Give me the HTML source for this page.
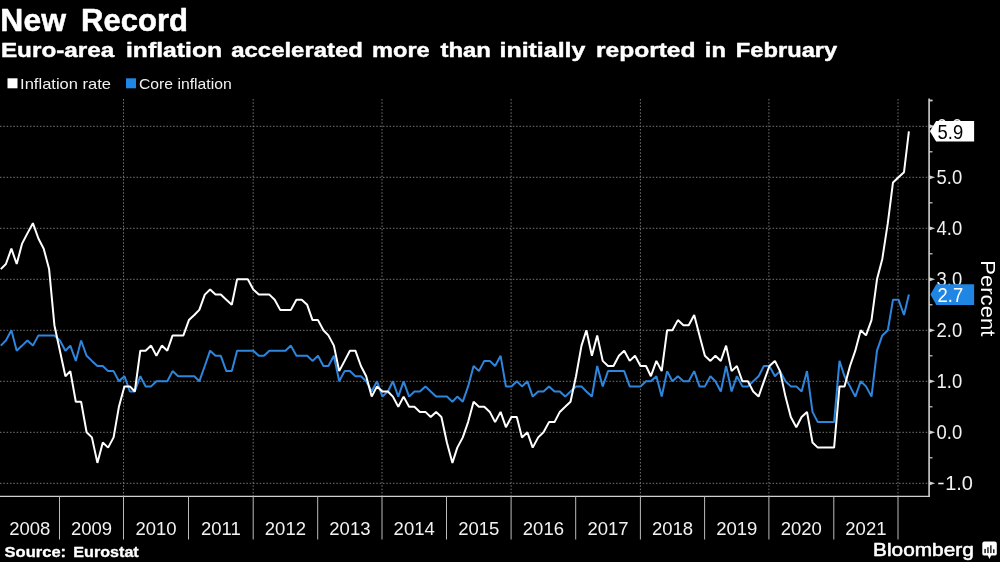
<!DOCTYPE html>
<html><head><meta charset="utf-8"><style>
html,body{margin:0;padding:0;background:#000;width:1000px;height:562px;overflow:hidden}
svg{display:block}
text{font-family:"Liberation Sans",sans-serif;fill:#fff;filter:grayscale(1)}
.g{stroke:#767676;stroke-width:1;stroke-dasharray:1.5 1.83}
.sep{stroke:#bbb;stroke-width:1}
.yr{font-size:18.5px;text-anchor:middle;fill:#f2f2f2}
.yl{font-size:19.8px;fill:#f2f2f2}
</style></head><body>
<svg width="1000" height="562" viewBox="0 0 1000 562">
<rect width="1000" height="562" fill="#000"/>
<text x="0.39" y="30.7" font-size="30.6" font-weight="bold" stroke="#fff" stroke-width="0.5" stroke-linejoin="round" textLength="65.55" lengthAdjust="spacingAndGlyphs" style="fill:#fff">New</text><text x="81.10" y="30.7" font-size="30.6" font-weight="bold" stroke="#fff" stroke-width="0.5" stroke-linejoin="round" textLength="106.83" lengthAdjust="spacingAndGlyphs" style="fill:#fff">Record</text>
<text x="0.91" y="57.4" font-size="21.0" font-weight="bold" stroke="#fff" stroke-width="0.45" stroke-linejoin="round" textLength="113.38" lengthAdjust="spacingAndGlyphs" style="fill:#fff">Euro-area</text><text x="125.99" y="57.4" font-size="21.0" font-weight="bold" stroke="#fff" stroke-width="0.45" stroke-linejoin="round" textLength="96.16" lengthAdjust="spacingAndGlyphs" style="fill:#fff">inflation</text><text x="231.29" y="57.4" font-size="21.0" font-weight="bold" stroke="#fff" stroke-width="0.45" stroke-linejoin="round" textLength="131.61" lengthAdjust="spacingAndGlyphs" style="fill:#fff">accelerated</text><text x="372.01" y="57.4" font-size="21.0" font-weight="bold" stroke="#fff" stroke-width="0.45" stroke-linejoin="round" textLength="57.70" lengthAdjust="spacingAndGlyphs" style="fill:#fff">more</text><text x="440.46" y="57.4" font-size="21.0" font-weight="bold" stroke="#fff" stroke-width="0.45" stroke-linejoin="round" textLength="50.47" lengthAdjust="spacingAndGlyphs" style="fill:#fff">than</text><text x="499.49" y="57.4" font-size="21.0" font-weight="bold" stroke="#fff" stroke-width="0.45" stroke-linejoin="round" textLength="85.92" lengthAdjust="spacingAndGlyphs" style="fill:#fff">initially</text><text x="595.96" y="57.4" font-size="21.0" font-weight="bold" stroke="#fff" stroke-width="0.45" stroke-linejoin="round" textLength="99.55" lengthAdjust="spacingAndGlyphs" style="fill:#fff">reported</text><text x="704.84" y="57.4" font-size="21.0" font-weight="bold" stroke="#fff" stroke-width="0.45" stroke-linejoin="round" textLength="20.99" lengthAdjust="spacingAndGlyphs" style="fill:#fff">in</text><text x="735.83" y="57.4" font-size="21.0" font-weight="bold" stroke="#fff" stroke-width="0.45" stroke-linejoin="round" textLength="101.41" lengthAdjust="spacingAndGlyphs" style="fill:#fff">February</text>
<rect x="7.5" y="78.3" width="10" height="10" fill="#fff"/>
<text x="20.10" y="89" font-size="14.6" textLength="90.96" lengthAdjust="spacingAndGlyphs" style="fill:#f0f0f0">Inflation rate</text>
<rect x="126" y="78.3" width="10" height="10" fill="#1f86e4"/>
<text x="138.94" y="89" font-size="14.6" textLength="92.82" lengthAdjust="spacingAndGlyphs" style="fill:#f0f0f0">Core inflation</text>
<line x1="0" y1="483.3" x2="928" y2="483.3" class="g"/>
<line x1="0" y1="432.3" x2="928" y2="432.3" class="g"/>
<line x1="0" y1="381.3" x2="928" y2="381.3" class="g"/>
<line x1="0" y1="330.3" x2="928" y2="330.3" class="g"/>
<line x1="0" y1="279.3" x2="928" y2="279.3" class="g"/>
<line x1="0" y1="228.3" x2="928" y2="228.3" class="g"/>
<line x1="0" y1="177.3" x2="928" y2="177.3" class="g"/>
<line x1="0" y1="126.3" x2="928" y2="126.3" class="g"/>
<line x1="123.5" y1="99" x2="123.5" y2="496" class="g"/>
<line x1="253.2" y1="99" x2="253.2" y2="496" class="g"/>
<line x1="382.0" y1="99" x2="382.0" y2="496" class="g"/>
<line x1="511.1" y1="99" x2="511.1" y2="496" class="g"/>
<line x1="640.4" y1="99" x2="640.4" y2="496" class="g"/>
<line x1="768.9" y1="99" x2="768.9" y2="496" class="g"/>
<line x1="898.0" y1="99" x2="898.0" y2="496" class="g"/>
<polyline points="0.8,345.6 5.9,340.5 11.4,330.3 16.7,350.7 22.1,345.6 27.4,340.5 32.9,345.6 38.4,335.4 43.7,335.4 49.1,335.4 54.4,335.4 59.9,340.5 65.4,350.7 70.3,345.6 75.8,360.9 81.1,340.5 86.6,355.8 91.9,360.9 97.4,366.0 102.8,366.0 108.1,371.1 113.6,371.1 118.9,381.3 124.4,376.2 129.9,391.5 134.8,391.5 140.3,376.2 145.6,386.4 151.1,386.4 156.4,381.3 161.8,381.3 167.3,381.3 172.6,371.1 178.1,376.2 183.4,376.2 188.9,376.2 194.3,376.2 199.3,381.3 204.8,366.0 210.1,350.7 215.5,355.8 220.8,355.8 226.3,371.1 231.8,371.1 237.1,350.7 242.6,350.7 247.8,350.7 253.3,350.7 258.8,355.8 263.9,355.8 269.4,350.7 274.7,350.7 280.2,350.7 285.5,350.7 290.9,345.6 296.4,355.8 301.7,355.8 307.2,355.8 312.5,360.9 318.0,355.8 323.4,366.0 328.4,366.0 333.9,355.8 339.2,381.3 344.6,371.1 349.9,371.1 355.4,376.2 360.9,376.2 366.2,381.3 371.7,391.5 377.0,381.3 382.4,396.6 387.9,391.5 392.9,381.3 398.3,396.6 403.6,381.3 409.1,396.6 414.4,391.5 419.9,391.5 425.4,386.4 430.7,391.5 436.1,396.6 441.4,396.6 446.9,396.6 452.4,401.7 457.3,396.6 462.8,401.7 468.1,386.4 473.6,366.0 478.9,371.1 484.3,360.9 489.8,360.9 495.1,366.0 500.6,355.8 505.9,386.4 511.4,386.4 516.8,381.3 522.0,386.4 527.4,381.3 532.7,396.6 538.2,391.5 543.5,391.5 549.0,386.4 554.5,391.5 559.8,391.5 565.2,396.6 570.5,391.5 576.0,386.4 581.5,386.4 586.4,391.5 591.9,396.6 597.2,366.0 602.7,386.4 608.0,371.1 613.5,371.1 618.9,371.1 624.2,371.1 629.7,386.4 635.0,386.4 640.5,386.4 646.0,381.3 650.9,381.3 656.4,376.2 661.7,396.6 667.1,371.1 672.4,381.3 677.9,376.2 683.4,381.3 688.7,381.3 694.2,371.1 699.5,386.4 704.9,386.4 710.4,376.2 715.4,381.3 720.8,391.5 726.1,366.0 731.6,391.5 736.9,376.2 742.4,386.4 747.9,386.4 753.2,381.3 758.6,376.2 763.9,366.0 769.4,366.0 774.9,376.2 780.0,371.1 785.5,381.3 790.8,386.4 796.3,386.4 801.6,391.5 807.0,371.1 812.5,411.9 817.8,422.1 823.3,422.1 828.6,422.1 834.1,422.1 839.5,360.9 844.5,376.2 850.0,386.4 855.3,396.6 860.7,381.3 866.0,386.4 871.5,396.6 877.0,350.7 882.3,335.4 887.8,330.3 893.0,299.7 898.5,299.7 904.0,315.0 908.9,294.6" fill="none" stroke="#2e85dc" stroke-width="2" stroke-linejoin="bevel"/>
<polyline points="0.8,269.1 5.9,264.0 11.4,248.7 16.7,264.0 22.1,243.6 27.4,233.4 32.9,223.2 38.4,238.5 43.7,248.7 49.1,269.1 54.4,325.2 59.9,350.7 65.4,376.2 70.3,371.1 75.8,401.7 81.1,401.7 86.6,432.3 91.9,437.4 97.4,462.9 102.8,442.5 108.1,447.6 113.6,437.4 118.9,406.8 124.4,386.4 129.9,386.4 134.8,391.5 140.3,350.7 145.6,350.7 151.1,345.6 156.4,355.8 161.8,345.6 167.3,350.7 172.6,335.4 178.1,335.4 183.4,335.4 188.9,320.1 194.3,315.0 199.3,309.9 204.8,294.6 210.1,289.5 215.5,294.6 220.8,294.6 226.3,299.7 231.8,304.8 237.1,279.3 242.6,279.3 247.8,279.3 253.3,289.5 258.8,294.6 263.9,294.6 269.4,294.6 274.7,299.7 280.2,309.9 285.5,309.9 290.9,309.9 296.4,299.7 301.7,299.7 307.2,304.8 312.5,320.1 318.0,320.1 323.4,330.3 328.4,335.4 333.9,345.6 339.2,371.1 344.6,360.9 349.9,350.7 355.4,350.7 360.9,366.0 366.2,376.2 371.7,396.6 377.0,386.4 382.4,391.5 387.9,391.5 392.9,396.6 398.3,406.8 403.6,396.6 409.1,406.8 414.4,406.8 419.9,411.9 425.4,411.9 430.7,417.0 436.1,411.9 441.4,417.0 446.9,442.5 452.4,462.9 457.3,447.6 462.8,437.4 468.1,422.1 473.6,401.7 478.9,406.8 484.3,406.8 489.8,411.9 495.1,422.1 500.6,411.9 505.9,427.2 511.4,417.0 516.8,417.0 522.0,437.4 527.4,432.3 532.7,447.6 538.2,437.4 543.5,432.3 549.0,422.1 554.5,422.1 559.8,411.9 565.2,406.8 570.5,401.7 576.0,376.2 581.5,345.6 586.4,330.3 591.9,355.8 597.2,335.4 602.7,360.9 608.0,366.0 613.5,366.0 618.9,355.8 624.2,350.7 629.7,360.9 635.0,355.8 640.5,366.0 646.0,366.0 650.9,376.2 656.4,360.9 661.7,371.1 667.1,330.3 672.4,330.3 677.9,320.1 683.4,325.2 688.7,325.2 694.2,315.0 699.5,335.4 704.9,355.8 710.4,360.9 715.4,355.8 720.8,360.9 726.1,345.6 731.6,371.1 736.9,366.0 742.4,381.3 747.9,381.3 753.2,391.5 758.6,396.6 763.9,381.3 769.4,366.0 774.9,360.9 780.0,371.1 785.5,396.6 790.8,417.0 796.3,427.2 801.6,417.0 807.0,411.9 812.5,442.5 817.8,447.6 823.3,447.6 828.6,447.6 834.1,447.6 839.5,386.4 844.5,386.4 850.0,366.0 855.3,350.7 860.7,330.3 866.0,335.4 871.5,320.1 877.0,279.3 882.3,258.9 887.8,223.2 893.0,182.4 898.5,177.3 904.0,172.2 908.9,131.4" fill="none" stroke="#fff" stroke-width="2" stroke-linejoin="bevel"/>
<line x1="929.1" y1="98.6" x2="929.1" y2="497" stroke="#d0d0d0" stroke-width="1.6"/>
<line x1="0" y1="496.4" x2="929.9" y2="496.4" stroke="#d0d0d0" stroke-width="1.2"/>
<line x1="929" y1="100.2" x2="932.5" y2="100.2" stroke="#d0d0d0" stroke-width="1.2"/>
<path d="M929 481.2 L935.2 483.3 L929 485.4 Z" fill="#d0d0d0"/><path d="M929 430.2 L935.2 432.3 L929 434.4 Z" fill="#d0d0d0"/><path d="M929 379.2 L935.2 381.3 L929 383.4 Z" fill="#d0d0d0"/><path d="M929 328.2 L935.2 330.3 L929 332.4 Z" fill="#d0d0d0"/><path d="M929 277.2 L935.2 279.3 L929 281.4 Z" fill="#d0d0d0"/><path d="M929 226.2 L935.2 228.3 L929 230.4 Z" fill="#d0d0d0"/><path d="M929 175.2 L935.2 177.3 L929 179.4 Z" fill="#d0d0d0"/><path d="M929 124.2 L935.2 126.3 L929 128.4 Z" fill="#d0d0d0"/><line x1="929" y1="457.8" x2="932.5" y2="457.8" stroke="#d0d0d0" stroke-width="1.2"/><line x1="929" y1="406.8" x2="932.5" y2="406.8" stroke="#d0d0d0" stroke-width="1.2"/><line x1="929" y1="355.8" x2="932.5" y2="355.8" stroke="#d0d0d0" stroke-width="1.2"/><line x1="929" y1="304.8" x2="932.5" y2="304.8" stroke="#d0d0d0" stroke-width="1.2"/><line x1="929" y1="253.8" x2="932.5" y2="253.8" stroke="#d0d0d0" stroke-width="1.2"/><line x1="929" y1="202.8" x2="932.5" y2="202.8" stroke="#d0d0d0" stroke-width="1.2"/><line x1="929" y1="151.8" x2="932.5" y2="151.8" stroke="#d0d0d0" stroke-width="1.2"/><line x1="929" y1="100.8" x2="932.5" y2="100.8" stroke="#d0d0d0" stroke-width="1.2"/>
<rect x="938.2" y="482.7" width="5.4" height="1.6" fill="#eee"/><text x="945.2" y="489.6" class="yl" textLength="27.8" lengthAdjust="spacingAndGlyphs">1.0</text><text x="936.6" y="438.6" class="yl" textLength="25.6" lengthAdjust="spacingAndGlyphs">0.0</text><text x="936.6" y="387.6" class="yl" textLength="25.6" lengthAdjust="spacingAndGlyphs">1.0</text><text x="936.6" y="336.6" class="yl" textLength="25.6" lengthAdjust="spacingAndGlyphs">2.0</text><text x="936.6" y="285.6" class="yl" textLength="25.6" lengthAdjust="spacingAndGlyphs">3.0</text><text x="936.6" y="234.6" class="yl" textLength="25.6" lengthAdjust="spacingAndGlyphs">4.0</text><text x="936.6" y="183.6" class="yl" textLength="25.6" lengthAdjust="spacingAndGlyphs">5.0</text><text x="936.6" y="132.6" class="yl" textLength="25.6" lengthAdjust="spacingAndGlyphs">6.0</text>
<line x1="59.5" y1="496" x2="59.5" y2="539.5" class="sep"/><line x1="123.5" y1="496" x2="123.5" y2="539.5" class="sep"/><line x1="188.5" y1="496" x2="188.5" y2="539.5" class="sep"/><line x1="253.2" y1="496" x2="253.2" y2="539.5" class="sep"/><line x1="317.7" y1="496" x2="317.7" y2="539.5" class="sep"/><line x1="382.0" y1="496" x2="382.0" y2="539.5" class="sep"/><line x1="446.5" y1="496" x2="446.5" y2="539.5" class="sep"/><line x1="511.1" y1="496" x2="511.1" y2="539.5" class="sep"/><line x1="575.7" y1="496" x2="575.7" y2="539.5" class="sep"/><line x1="640.4" y1="496" x2="640.4" y2="539.5" class="sep"/><line x1="704.6" y1="496" x2="704.6" y2="539.5" class="sep"/><line x1="768.9" y1="496" x2="768.9" y2="539.5" class="sep"/><line x1="833.8" y1="496" x2="833.8" y2="539.5" class="sep"/><line x1="898.0" y1="496" x2="898.0" y2="539.5" class="sep"/>
<text x="29.8" y="535.3" class="yr">2008</text><text x="91.5" y="535.3" class="yr">2009</text><text x="156.0" y="535.3" class="yr">2010</text><text x="220.8" y="535.3" class="yr">2011</text><text x="285.4" y="535.3" class="yr">2012</text><text x="349.9" y="535.3" class="yr">2013</text><text x="414.2" y="535.3" class="yr">2014</text><text x="478.8" y="535.3" class="yr">2015</text><text x="543.4" y="535.3" class="yr">2016</text><text x="608.0" y="535.3" class="yr">2017</text><text x="672.5" y="535.3" class="yr">2018</text><text x="736.8" y="535.3" class="yr">2019</text><text x="801.3" y="535.3" class="yr">2020</text><text x="865.9" y="535.3" class="yr">2021</text>
<path d="M929.9 131.2 L936.1 121 L974.1 121 L974.1 141.6 L936.1 141.6 Z" fill="#fff"/>
<text x="937.6" y="138.7" font-size="19.8" textLength="25.6" lengthAdjust="spacingAndGlyphs" style="fill:#000">5.9</text>
<path d="M930.4 294.5 L936.3 284.3 L974.1 284.3 L974.1 304.9 L936.3 304.9 Z" fill="#1f86e4"/>
<text x="937.6" y="301.9" font-size="19.8" textLength="25.6" lengthAdjust="spacingAndGlyphs">2.7</text>
<text transform="translate(980.6,260.3) rotate(90)" font-size="20.8" textLength="76" lengthAdjust="spacingAndGlyphs">Percent</text>
<text x="4.61" y="556.8" font-size="14.2" font-weight="bold" stroke="#fff" stroke-width="0.3" stroke-linejoin="round" textLength="61.48" lengthAdjust="spacingAndGlyphs" style="fill:#fff">Source:</text><text x="73.32" y="556.8" font-size="14.2" font-weight="bold" stroke="#fff" stroke-width="0.3" stroke-linejoin="round" textLength="65.43" lengthAdjust="spacingAndGlyphs" style="fill:#fff">Eurostat</text>
<text x="873.10" y="555.5" font-size="19.2" stroke="#fff" stroke-width="0.55" stroke-linejoin="round" textLength="100.66" lengthAdjust="spacingAndGlyphs" style="fill:#fff">Bloomberg</text>
<g>
<rect x="982.3" y="541.6" width="14.5" height="14" rx="2.2" fill="#fff"/>
<path d="M987.6 555 L989.5 559 L991.3 555 Z" fill="#fff"/>
<rect x="984.3" y="548.9" width="1.6" height="4.2" fill="#222"/>
<rect x="987.2" y="547.2" width="1.5" height="5.9" fill="#222"/>
<rect x="990.1" y="545.3" width="1.5" height="7.8" fill="#222"/>
<rect x="993" y="549.3" width="1.5" height="3.8" fill="#222"/>
</g>
</svg>
</body></html>
